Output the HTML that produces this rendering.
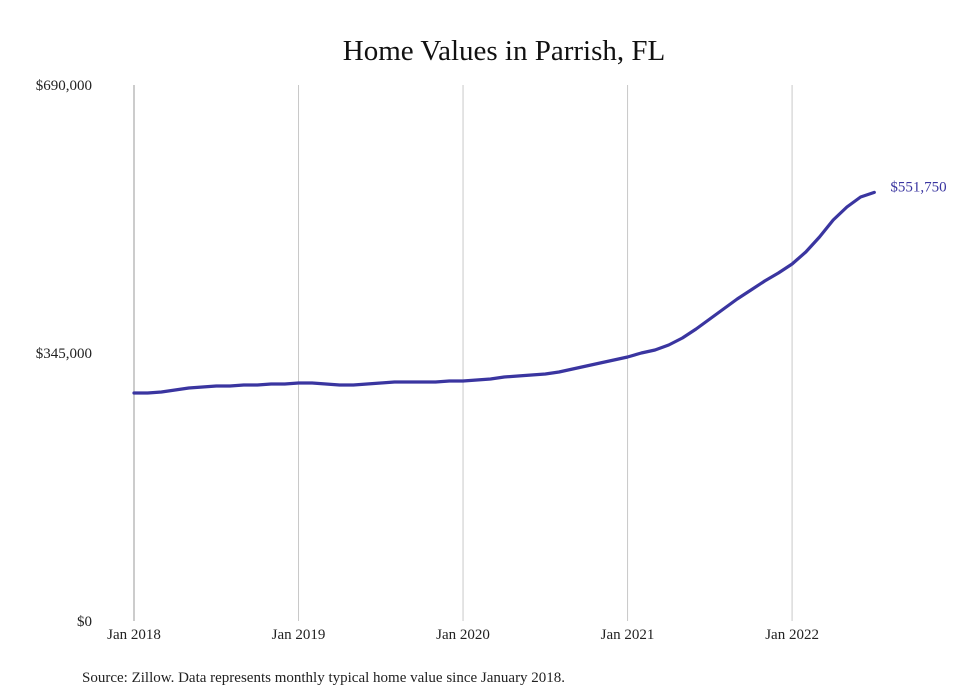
<!DOCTYPE html>
<html><head><meta charset="utf-8">
<style>
body{margin:0;background:#fff;}
svg{display:block;font-family:"Liberation Serif",serif;}
</style></head>
<body>
<svg id="chart" width="980" height="699" viewBox="0 0 980 699">
<rect width="980" height="699" fill="#fff"/>
<text x="504" y="60" text-anchor="middle" font-size="29" fill="#111">Home Values in Parrish, FL</text>
<g id="grid"></g>
<g id="yticks"></g>
<g id="xticks"></g>
<path id="line" fill="none" stroke="#3a35a0" stroke-width="3.2" stroke-linejoin="round" stroke-linecap="round"/>
<text id="endlabel" font-size="15" fill="#3a35a0"></text>
<text x="82" y="682" font-size="15" fill="#222">Source: Zillow. Data represents monthly typical home value since January 2018.</text>
</svg>
<script>
const startYear = 2018;
const values = [293500,293500,294800,297400,299900,301200,302500,302500,303800,303800,305100,305100,
306400,306400,305100,303800,303800,305100,306400,307700,307700,307700,307700,309000,
309000,310200,311500,314100,315400,316700,318000,320500,324400,328300,332100,336000,
339900,345000,348900,355300,364300,375900,388800,401600,414500,426100,437700,448000,
459600,475000,494300,516200,533000,545800,551750];
const yTickValues = [0,345000,690000];
const yTickLabels = ["$0","$345,000","$690,000"];
const xTickLabels = ["Jan 2018","Jan 2019","Jan 2020","Jan 2021","Jan 2022"];

(function(){
const NS="http://www.w3.org/2000/svg";
const plotTop=85,plotBottom=621,x0=134,monthW=13.71;
const yMax=690000;
function sy(v){return plotBottom-(v/yMax)*(plotBottom-plotTop);}
function sx(i){return x0+i*monthW;}
const grid=document.getElementById('grid');
const xt=document.getElementById('xticks');
xTickLabels.forEach((lab,k)=>{
  const xx=sx(k*12);
  const l=document.createElementNS(NS,'line');
  l.setAttribute('x1',xx);l.setAttribute('x2',xx);l.setAttribute('y1',plotTop);l.setAttribute('y2',plotBottom);
  l.setAttribute('stroke',k===0?'#999':'#c8c8c8');l.setAttribute('stroke-width','1');
  
  
  grid.appendChild(l);
  const t=document.createElementNS(NS,'text');
  t.setAttribute('x',xx);t.setAttribute('y',plotBottom+18);t.setAttribute('text-anchor','middle');
  t.setAttribute('font-size','15');t.setAttribute('fill','#222');t.textContent=lab;
  
  
  xt.appendChild(t);
});
const yt=document.getElementById('yticks');
yTickValues.forEach((v,k)=>{
  const t=document.createElementNS(NS,'text');
  t.setAttribute('x',92);t.setAttribute('y',sy(v)+5);t.setAttribute('text-anchor','end');
  t.setAttribute('font-size','15');t.setAttribute('fill','#222');t.textContent=yTickLabels[k];
  
  
  yt.appendChild(t);
});
let d='';
values.forEach((v,i)=>{d+=(i?'L':'M')+sx(i).toFixed(1)+' '+sy(v).toFixed(1);});
document.getElementById('line').setAttribute('d',d);
const last=values.length-1;
const el=document.getElementById('endlabel');
el.setAttribute('x',sx(last)+16);el.setAttribute('y',sy(values[last])-1);
el.textContent='$'+values[last].toLocaleString('en-US');
})();
</script>
</body></html>
